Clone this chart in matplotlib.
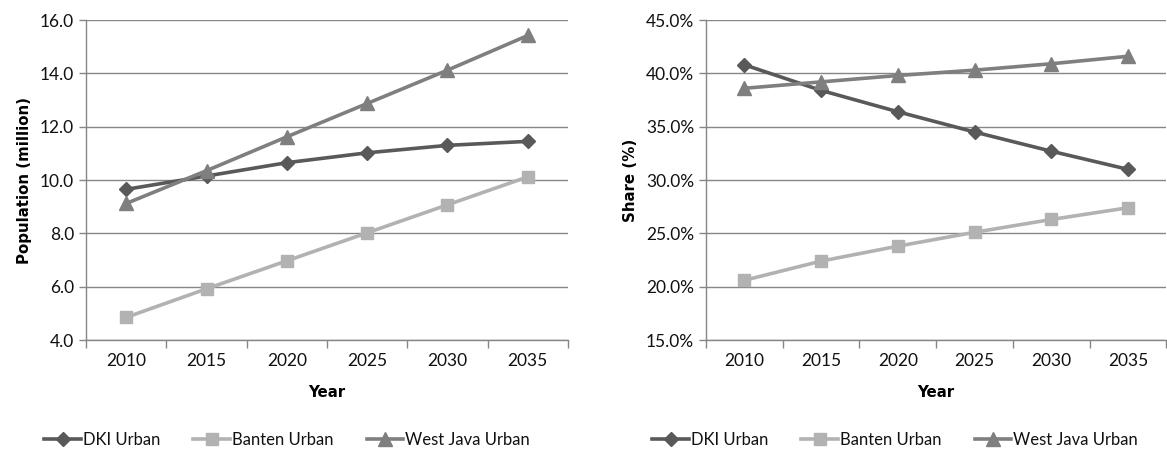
import matplotlib
matplotlib.use("Agg")
import matplotlib.pyplot as plt
from matplotlib.ticker import FuncFormatter, FixedLocator
import numpy as np

years = ["2010", "2015", "2020", "2025", "2030", "2035"]

pop_dki = [9.65, 10.15, 10.65, 11.02, 11.30, 11.45]
pop_banten = [4.85, 5.92, 6.97, 8.02, 9.07, 10.12]
pop_westjava = [9.12, 10.35, 11.62, 12.87, 14.12, 15.42]

share_dki = [40.8, 38.4, 36.4, 34.5, 32.7, 31.0]
share_banten = [20.6, 22.4, 23.8, 25.1, 26.3, 27.4]
share_westjava = [38.6, 39.2, 39.8, 40.3, 40.9, 41.6]

series_names = ["DKI Urban", "Banten Urban", "West Java Urban"]
colors = ["#595959", "#b2b2b2", "#7f7f7f"]
markers = ["D", "s", "^"]
msizes = [7, 8.5, 9.5]

plt.rcParams['font.family'] = ['Lato', 'DejaVu Sans']
plt.rcParams['text.color'] = '#111111'

fig = plt.figure(figsize=(11.67, 4.53), dpi=100)
ax1 = fig.add_axes([0.0737, 0.2494, 0.413, 0.7064])
ax2 = fig.add_axes([0.605, 0.2494, 0.3945, 0.7064])

label_font = dict(family='DejaVu Sans', fontweight='bold', fontsize=10.8)


def style_axis(ax, ylim, step, fmt, ylabel):
    x = np.arange(len(years))
    ax.set_xlim(-0.5, len(years) - 0.5)
    ax.set_ylim(*ylim)
    ax.set_yticks(np.arange(ylim[0], ylim[1] + step / 2, step))
    ax.yaxis.set_major_formatter(FuncFormatter(fmt))
    ax.xaxis.set_major_locator(FixedLocator(np.arange(-0.5, len(years), 1.0)))
    ax.set_xticklabels([])
    ax.xaxis.set_minor_locator(FixedLocator(x))
    ax.set_xticklabels(years, minor=True)
    ax.tick_params(axis='x', which='major', length=6, color='#868686', width=1)
    ax.tick_params(axis='x', which='minor', length=0, pad=9, labelsize=12.5, labelcolor='#111111')
    ax.tick_params(axis='y', length=5, color='#868686', width=1, labelsize=12.5, labelcolor='#111111')
    ax.grid(axis='y', color='#868686', linewidth=1)
    ax.set_axisbelow(True)
    for s in ['top', 'right']:
        ax.spines[s].set_visible(False)
    for s in ['left', 'bottom']:
        ax.spines[s].set_color('#868686')
        ax.spines[s].set_linewidth(1)
    ax.set_xlabel("Year", labelpad=12, **label_font)
    ax.set_ylabel(ylabel, labelpad=6, **label_font)


def draw(ax, data):
    x = np.arange(len(years))
    handles = []
    for vals, name, c, m, ms in zip(data, series_names, colors, markers, msizes):
        h, = ax.plot(x, vals, color=c, marker=m, markersize=ms, linewidth=2.6,
                     label=name, clip_on=False, zorder=3)
        handles.append(h)
    return handles


h1 = draw(ax1, [pop_dki, pop_banten, pop_westjava])
style_axis(ax1, (4.0, 16.0), 2.0, lambda v, p: f"{v:.1f}", "Population (million)")

h2 = draw(ax2, [share_dki, share_banten, share_westjava])
style_axis(ax2, (15.0, 45.0), 5.0, lambda v, p: f"{v:.1f}%", "Share (%)")

for handles, cx in [(h1, 0.246), (h2, 0.767)]:
    fig.legend(handles=handles, labels=series_names, loc='center',
               bbox_to_anchor=(cx, 0.028), ncol=3, frameon=False, fontsize=12,
               handlelength=2.2, handletextpad=0.1, columnspacing=2.0)

fig.savefig("out.png", dpi=100)
